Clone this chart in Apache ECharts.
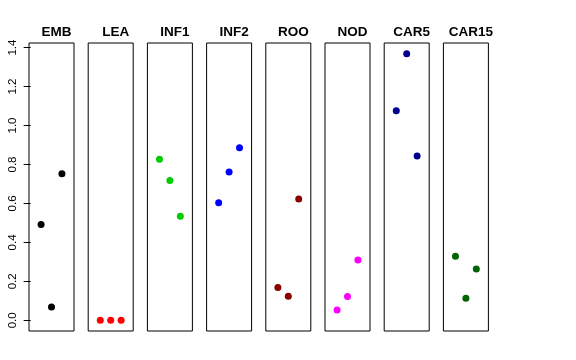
<!DOCTYPE html>
<html>
<head>
<meta charset="utf-8">
<script src="https://cdn.jsdelivr.net/npm/echarts@6/dist/echarts.min.js"></script>
<style>html,body{margin:0;padding:0;background:#fff;}#c{width:576px;height:360px;}</style>
</head>
<body>
<div id="c"></div>
<script>
var panels = ["EMB", "LEA", "INF1", "INF2", "ROO", "NOD", "CAR5", "CAR15"];
var colors = ["#000000", "#FF0000", "#00CD00", "#0000FF", "#8B0000", "#FF00FF", "#00008B", "#006400"];
var positions = [1, 2, 3];
var EMB = [0.492, 0.068, 0.752];
var LEA = [0.0, 0.0, 0.0];
var INF1 = [0.827, 0.718, 0.534];
var INF2 = [0.603, 0.762, 0.886];
var ROO = [0.168, 0.123, 0.623];
var NOD = [0.053, 0.122, 0.310];
var CAR5 = [1.076, 1.369, 0.843];
var CAR15 = [0.329, 0.113, 0.264];
var values = [EMB, LEA, INF1, INF2, ROO, NOD, CAR5, CAR15];
var yTicks = [0, 0.2, 0.4, 0.6, 0.8, 1.0, 1.2, 1.4];

(function () {
var chart = echarts.init(document.getElementById('c'), null, {renderer: 'canvas'});
var grids = [], xAxes = [], yAxes = [], series = [], titles = [];
var left0 = 29, step = 59.2, w = 45, gTop = 43, h = 288;
var font = 'Liberation Sans, Arial, Helvetica, sans-serif';
for (var i = 0; i < panels.length; i++) {
  var L = left0 + i * step;
  grids.push({left: L, top: gTop, width: w, height: h, show: true, borderColor: '#000', borderWidth: 1, backgroundColor: 'transparent'});
  xAxes.push({type: 'value', gridIndex: i, min: -0.16, max: 4.16, show: false});
  var ya = {type: 'value', gridIndex: i, min: -0.0548, max: 1.4236, show: i === 0,
    splitLine: {show: false},
    axisLine: {show: false},
    axisTick: {show: true, length: 7, customValues: yTicks, lineStyle: {color: '#000'}},
    axisLabel: {show: true, rotate: 90, margin: 10, customValues: yTicks, color: '#000', fontSize: 11.5, fontFamily: font,
      formatter: function (v) { return v.toFixed(1); }}
  };
  yAxes.push(ya);
  var data = [];
  for (var j = 0; j < positions.length; j++) data.push([positions[j], values[i][j]]);
  series.push({type: 'scatter', xAxisIndex: i, yAxisIndex: i, data: data, symbol: 'circle', symbolSize: 7,
    itemStyle: {color: colors[i], opacity: 1}, silent: true, animation: false});
  titles.push({text: panels[i], left: L + w / 2, top: 20, textAlign: 'center',
    textStyle: {fontSize: 13.5, fontWeight: 'bold', color: '#000', fontFamily: font}});
}
chart.setOption({
  animation: false,
  title: titles,
  grid: grids,
  xAxis: xAxes,
  yAxis: yAxes,
  series: series
});
})();
</script>
</body>
</html>
